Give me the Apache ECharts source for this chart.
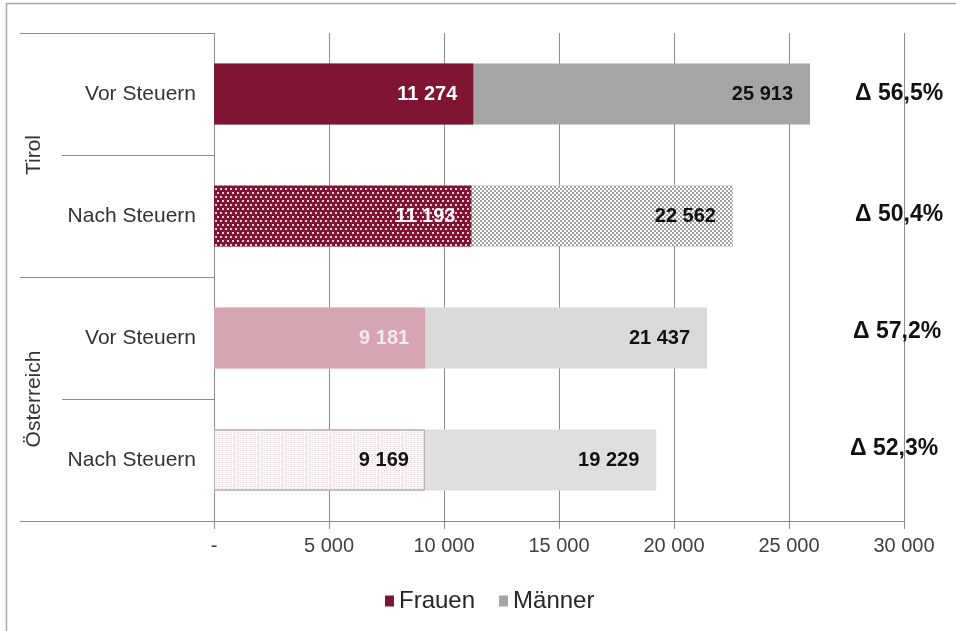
<!DOCTYPE html>
<html>
<head>
<meta charset="utf-8">
<script src="https://cdn.jsdelivr.net/npm/echarts@6/dist/echarts.min.js"></script>
<style>
html,body{margin:0;padding:0;background:#fff;}
#chart{width:956px;height:631px;}
</style>
</head>
<body>
<div id="chart"></div>
<script>
// ---- data ----
const categories = ['Vor Steuern', 'Nach Steuern', 'Vor Steuern', 'Nach Steuern'];
const groups = ['Tirol', 'Österreich'];
const frauen = [11274, 11193, 9181, 9169];
const maenner = [25913, 22562, 21437, 19229];
const deltas = ['Δ 56,5%', 'Δ 50,4%', 'Δ 57,2%', 'Δ 52,3%'];
const seriesNames = ['Frauen', 'Männer'];

// ---- styles (kept separate from data) ----
const FONT = 'Liberation Sans, Arial, sans-serif';
const RED = '#7f1433';
const GREY = '#a5a5a5';
const frauenStyles = [
  { color: RED },
  { color: RED, decal: { symbol: 'rect', symbolSize: 1, color: 'rgba(255,255,255,0.8)',
      dashArrayX: [[1.5, 2.5], [0, 2, 1.5, 0.5]], dashArrayY: [1.5, 1.5], rotation: 0 } },
  { color: '#d7a5b2' },
  { color: '#fbf7f8', borderColor: '#b8b0b2', borderWidth: 1,
    decal: { symbol: 'rect', symbolSize: 1, color: '#dccbcf',
      dashArrayX: [[1, 2], [0, 1.5, 1, 0.5]], dashArrayY: [1, 1], rotation: 0 } }
];
const frauenLabelColors = ['#ffffff', '#ffffff', '#f7eaee', '#111111'];
const maennerStyles = [
  { color: GREY },
  { color: '#a0a0a0', decal: { symbol: 'rect', symbolSize: 1, color: '#ffffff',
      dashArrayX: [[2, 2], [0, 2, 2, 0]], dashArrayY: [2, 0], rotation: 0 } },
  { color: '#d9d9d9' },
  { color: '#dfdfdf' }
];
const deltaRich = [
  { padding: [0, 0, 0, 5] },
  { padding: [0, 0, 2, 5] },
  { padding: [0, 0, 12, 3] },
  { padding: [0, 0, 22, 0] }
];

const fmt = v => v === 0 ? '-' : String(v).replace(/\B(?=(\d{3})+(?!\d))/g, ' ');

const chart = echarts.init(document.getElementById('chart'), null, { renderer: 'canvas' });

const richDelta = {};
deltaRich.forEach((r, i) => {
  richDelta['d' + i] = Object.assign({ fontSize: 23, fontWeight: 'bold', color: '#111111', fontFamily: FONT }, r);
});

const option = {
  backgroundColor: '#ffffff',
  animation: false,
  textStyle: { fontFamily: FONT },
  graphic: [{
    type: 'rect', z: -10, silent: true,
    shape: { x: 6.5, y: 3.5, width: 1200, height: 1200 },
    style: { fill: 'none', stroke: '#a8a8a8', lineWidth: 1.5 }
  }],
  legend: {
    data: seriesNames,
    top: 584, left: 380,
    icon: 'rect', itemWidth: 9, itemHeight: 11, itemGap: 24,
    textStyle: { fontSize: 24, color: '#262626', fontFamily: FONT }
  },
  grid: { left: 214, right: 52, top: 33, bottom: 110, containLabel: false },
  xAxis: {
    type: 'value', min: 0, max: 30000, interval: 5000,
    axisLine: { show: true, lineStyle: { color: '#8c8c8c', width: 1 } },
    axisTick: { show: true, length: 8, lineStyle: { color: '#8c8c8c' } },
    splitLine: { show: true, lineStyle: { color: '#8c8c8c', width: 1 } },
    axisLabel: { formatter: fmt, fontSize: 20, color: '#404040', margin: 15, fontFamily: FONT }
  },
  yAxis: [
    {
      type: 'category', inverse: true, data: categories, position: 'left',
      axisLine: { show: false },
      axisTick: { show: true, length: 152, lineStyle: { color: '#8c8c8c' } },
      axisLabel: { fontSize: 21, color: '#333333', margin: 18, fontFamily: FONT }
    },
    {
      type: 'category', inverse: true, position: 'right', offset: -54,
      data: deltas,
      axisLine: { show: false }, axisTick: { show: false },
      axisLabel: { margin: 0, align: 'left', rich: richDelta,
        formatter: (v, i) => '{d' + i + '|' + v + '}' }
    },
    {
      type: 'category', inverse: true, data: groups, position: 'left',
      axisLine: { show: false },
      axisTick: { show: true, length: 194, lineStyle: { color: '#8c8c8c' } },
      axisLabel: { fontSize: 21, color: '#333333', rotate: 90, margin: 180,
        align: 'center', verticalAlign: 'middle', fontFamily: FONT }
    }
  ],
  series: [
    {
      name: seriesNames[1], type: 'bar', yAxisIndex: 0, barWidth: 61, barGap: '-100%', z: 2,
      itemStyle: { color: GREY },
      label: { show: true, position: 'insideRight', distance: 17, fontSize: 20, fontWeight: 'bold',
        color: '#111111', formatter: p => fmt(p.value), fontFamily: FONT },
      data: maenner.map((v, i) => ({ value: v, itemStyle: maennerStyles[i] }))
    },
    {
      name: seriesNames[0], type: 'bar', yAxisIndex: 0, barWidth: 61, barGap: '-100%', z: 3,
      itemStyle: { color: RED },
      label: { show: true, position: 'insideRight', distance: 16, fontSize: 20, fontWeight: 'bold',
        formatter: p => fmt(p.value), fontFamily: FONT },
      data: frauen.map((v, i) => ({ value: v, itemStyle: frauenStyles[i],
        label: { color: frauenLabelColors[i] } }))
    }
  ]
};
chart.setOption(option);
</script>
</body>
</html>
